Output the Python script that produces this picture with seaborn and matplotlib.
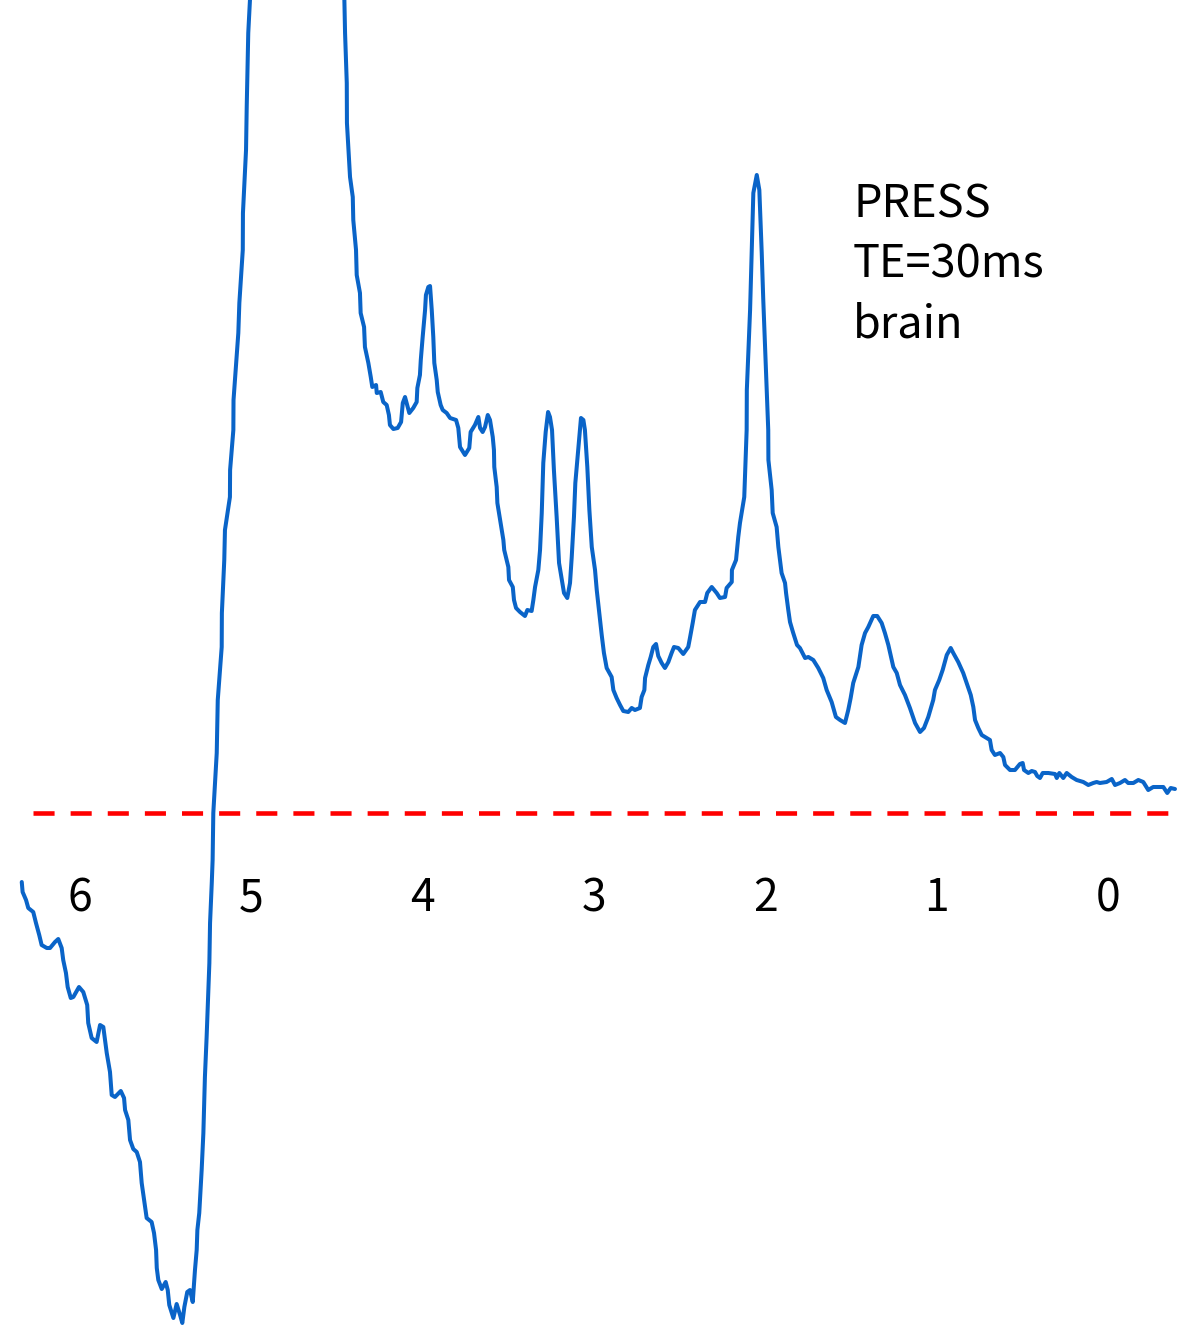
import matplotlib
matplotlib.use("Agg")
import matplotlib.pyplot as plt
import seaborn as sns
import pandas as pd

# 1H MR spectrum, PRESS TE=30ms, brain. Chemical shift in ppm, intensity in a.u.
ppm_left = [
    6.340, 6.335, 6.315, 6.302, 6.273, 6.257, 6.238, 6.224, 6.194, 6.175,
    6.146, 6.127, 6.107, 6.098, 6.082, 6.072, 6.054, 6.039, 6.006, 5.981,
    5.958, 5.952, 5.932, 5.903, 5.883, 5.864, 5.844, 5.825, 5.815, 5.796,
    5.762, 5.743, 5.737, 5.718, 5.708, 5.689, 5.669, 5.650, 5.640, 5.626,
    5.611, 5.582, 5.568, 5.556, 5.552, 5.543, 5.523, 5.500, 5.488, 5.479,
    5.455, 5.436, 5.416, 5.403, 5.391, 5.374, 5.358, 5.342, 5.329, 5.319,
    5.315, 5.304, 5.290, 5.280, 5.271, 5.261, 5.245, 5.241, 5.231, 5.226,
    5.222, 5.202, 5.196, 5.173, 5.172, 5.158, 5.154, 5.125, 5.124, 5.105,
    5.104, 5.076, 5.070, 5.050, 5.049, 5.031, 5.027, 5.018, 5.008, 4.999,
]
intensity_left = [
    -0.69, -0.79, -0.87, -0.95, -0.99, -1.10, -1.22, -1.32, -1.35, -1.35,
    -1.29, -1.26, -1.35, -1.47, -1.60, -1.74, -1.85, -1.84, -1.74, -1.79,
    -1.92, -2.10, -2.25, -2.29, -2.12, -2.14, -2.40, -2.59, -2.82, -2.84,
    -2.78, -2.85, -2.97, -3.07, -3.27, -3.36, -3.39, -3.49, -3.70, -3.87,
    -4.05, -4.09, -4.20, -4.37, -4.55, -4.67, -4.76, -4.69, -4.77, -4.92,
    -5.05, -4.91, -5.02, -5.10, -4.94, -4.79, -4.77, -4.89, -4.57, -4.37,
    -4.17, -4.00, -3.57, -3.20, -2.64, -2.24, -1.50, -1.10, -0.70, -0.47,
    0.00, 0.60, 1.13, 1.66, 2.00, 2.53, 2.83, 3.16, 3.43, 3.83,
    4.13, 4.80, 5.10, 5.63, 6.00, 6.63, 7.06, 7.80, 8.13, 8.53,
]

# residual water peak (top lies beyond the plotted range)
ppm_water = [4.728]
intensity_water = [15.0]

ppm_right = [
    4.462, 4.457, 4.453, 4.443, 4.442, 4.424, 4.408, 4.405, 4.389, 4.385,
    4.366, 4.362, 4.342, 4.337, 4.317, 4.303, 4.294, 4.272, 4.268, 4.245,
    4.230, 4.210, 4.197, 4.191, 4.171, 4.146, 4.126, 4.116, 4.103, 4.078,
    4.055, 4.035, 4.031, 4.016, 4.011, 4.000, 3.986, 3.981, 3.967, 3.957,
    3.947, 3.938, 3.932, 3.918, 3.912, 3.895, 3.883, 3.860, 3.840, 3.805,
    3.792, 3.782, 3.753, 3.728, 3.720, 3.695, 3.675, 3.665, 3.650, 3.636,
    3.620, 3.607, 3.591, 3.584, 3.582, 3.568, 3.564, 3.545, 3.529, 3.524,
    3.500, 3.496, 3.474, 3.467, 3.455, 3.432, 3.403, 3.389, 3.364, 3.354,
    3.344, 3.325, 3.315, 3.305, 3.296, 3.282, 3.268, 3.257, 3.245, 3.234,
    3.218, 3.204, 3.185, 3.175, 3.156, 3.140, 3.130, 3.117, 3.109, 3.092,
    3.076, 3.062, 3.053, 3.039, 3.027, 3.013, 2.994, 2.984, 2.969, 2.955,
    2.942, 2.926, 2.897, 2.887, 2.868, 2.848, 2.829, 2.800, 2.780, 2.761,
    2.732, 2.722, 2.706, 2.702, 2.683, 2.669, 2.654, 2.638, 2.625, 2.605,
    2.586, 2.566, 2.547, 2.533, 2.508, 2.479, 2.450, 2.440, 2.424, 2.411,
    2.381, 2.352, 2.339, 2.313, 2.284, 2.265, 2.235, 2.226, 2.196, 2.195,
    2.171, 2.158, 2.148, 2.123, 2.109, 2.108, 2.089, 2.080, 2.070, 2.050,
    2.035, 2.021, 2.012, 1.992, 1.983, 1.982, 1.963, 1.957, 1.934, 1.924,
    1.905, 1.885, 1.879, 1.866, 1.856, 1.839, 1.815, 1.798, 1.768, 1.749,
    1.720, 1.691, 1.662, 1.642, 1.613, 1.588, 1.564, 1.535, 1.516, 1.502,
    1.487, 1.457, 1.438, 1.418, 1.399, 1.370, 1.347, 1.321, 1.302, 1.282,
    1.253, 1.233, 1.214, 1.185, 1.156, 1.126, 1.097, 1.074, 1.049, 1.020,
    1.010, 0.985, 0.965, 0.941, 0.918, 0.903, 0.874, 0.845, 0.825, 0.801,
    0.786, 0.776, 0.757, 0.737, 0.708, 0.689, 0.679, 0.660, 0.630, 0.611,
    0.601, 0.572, 0.543, 0.514, 0.498, 0.490, 0.465, 0.445, 0.426, 0.413,
    0.397, 0.381, 0.348, 0.309, 0.299, 0.284, 0.261, 0.241, 0.212, 0.183,
    0.144, 0.115, 0.086, 0.066, 0.047, 0.008, -0.022, -0.041, -0.070, -0.099,
    -0.118, -0.148, -0.177, -0.206, -0.235, -0.264, -0.323, -0.346, -0.366, -0.391,
]
intensity_right = [
    8.53, 8.13, 7.80, 7.30, 6.90, 6.36, 6.16, 5.93, 5.63, 5.38,
    5.20, 5.00, 4.86, 4.66, 4.50, 4.36, 4.26, 4.28, 4.20, 4.21,
    4.11, 4.08, 3.98, 3.88, 3.84, 3.85, 3.91, 4.10, 4.16, 4.00,
    4.05, 4.11, 4.25, 4.38, 4.53, 4.76, 5.03, 5.18, 5.26, 5.27,
    5.03, 4.76, 4.50, 4.33, 4.21, 4.08, 4.03, 4.00, 3.95, 3.93,
    3.85, 3.66, 3.58, 3.65, 3.81, 3.88, 3.96, 3.85, 3.81, 3.86,
    3.98, 3.93, 3.76, 3.63, 3.46, 3.26, 3.10, 2.90, 2.73, 2.63,
    2.46, 2.33, 2.26, 2.13, 2.05, 2.01, 1.97, 2.03, 2.02, 2.13,
    2.26, 2.43, 2.63, 3.00, 3.50, 3.81, 4.01, 3.96, 3.83, 3.43,
    2.96, 2.50, 2.30, 2.20, 2.15, 2.30, 2.56, 2.96, 3.30, 3.63,
    3.95, 3.93, 3.83, 3.46, 3.03, 2.66, 2.43, 2.23, 2.00, 1.78,
    1.60, 1.45, 1.36, 1.23, 1.15, 1.08, 1.02, 1.01, 1.05, 1.03,
    1.05, 1.16, 1.23, 1.35, 1.48, 1.56, 1.66, 1.69, 1.57, 1.50,
    1.45, 1.51, 1.60, 1.66, 1.65, 1.59, 1.66, 1.75, 1.90, 2.03,
    2.11, 2.11, 2.20, 2.26, 2.20, 2.15, 2.16, 2.25, 2.31, 2.43,
    2.53, 2.76, 2.90, 3.16, 3.83, 4.23, 5.03, 5.60, 6.20, 6.38,
    6.23, 5.60, 5.13, 4.23, 3.83, 3.53, 3.23, 3.00, 2.86, 2.66,
    2.40, 2.30, 2.20, 2.03, 1.91, 1.81, 1.68, 1.65, 1.55, 1.56,
    1.53, 1.45, 1.35, 1.23, 1.11, 0.96, 0.93, 0.90, 1.03, 1.15,
    1.30, 1.46, 1.68, 1.80, 1.86, 1.97, 1.97, 1.90, 1.80, 1.68,
    1.46, 1.40, 1.28, 1.18, 1.05, 0.90, 0.81, 0.85, 0.96, 1.13,
    1.23, 1.33, 1.43, 1.58, 1.65, 1.60, 1.51, 1.40, 1.30, 1.18,
    1.06, 0.93, 0.85, 0.78, 0.75, 0.73, 0.63, 0.58, 0.60, 0.56,
    0.48, 0.43, 0.43, 0.49, 0.50, 0.43, 0.40, 0.42, 0.41, 0.37,
    0.35, 0.40, 0.40, 0.39, 0.35, 0.40, 0.35, 0.40, 0.36, 0.33,
    0.31, 0.28, 0.30, 0.31, 0.30, 0.31, 0.34, 0.28, 0.30, 0.33,
    0.30, 0.30, 0.33, 0.31, 0.23, 0.26, 0.26, 0.20, 0.25, 0.24,
]

tick_ppm = [6, 5, 4, 3, 2, 1, 0]
tick_labels = ["6", "5", "4", "3", "2", "1", "0"]
annotation_lines = ["PRESS", "TE=30ms", "brain"]

spectrum = pd.DataFrame({
    "ppm": ppm_left + ppm_water + ppm_right,
    "intensity": intensity_left + intensity_water + intensity_right,
})

sns.set_theme(style="white")
plt.rcParams["font.family"] = ["Noto Sans CJK SC", "DejaVu Sans"]

fig = plt.figure(figsize=(11.88, 13.27), dpi=100)
ax = fig.add_axes([0, 0, 1, 1])

sns.lineplot(data=spectrum, x="ppm", y="intensity", sort=False, estimator=None,
             color="#0a64c8", linewidth=2.9, ax=ax)
for ln in ax.get_lines():
    ln.set_solid_joinstyle("round")
    ln.set_solid_capstyle("round")

# baseline
ax.hlines(0, 6.274, -0.391, colors="#ff0000", linewidth=3.3,
          linestyles=(0, (4.6, 3.5)), zorder=1)

ax.set_xlim(6.467, -0.467)
ax.set_ylim(-5.14, 8.13)
ax.set_axis_off()

for p, lab in zip(tick_ppm, tick_labels):
    ax.text(p, -0.98, lab, ha="center", va="baseline", fontsize=32, color="black")

for i, line in enumerate(annotation_lines):
    ax.text(853 / 1188, 1 - (218 + 60 * i) / 1327, line, transform=ax.transAxes,
            ha="left", va="baseline", fontsize=32.5, color="black")

fig.savefig("out.png", dpi=100, facecolor="white")
